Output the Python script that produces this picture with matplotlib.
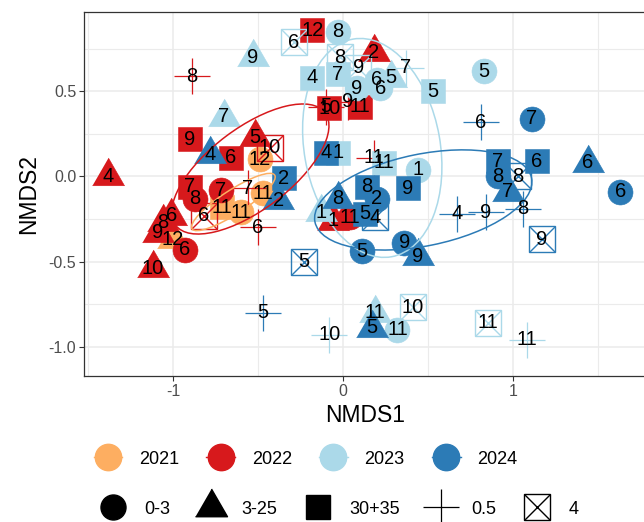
import matplotlib
matplotlib.use("Agg")
import matplotlib.pyplot as plt
from matplotlib.lines import Line2D
from matplotlib.patches import Ellipse
from matplotlib.legend_handler import HandlerTuple

plt.rcParams['font.family'] = ['Liberation Sans', 'DejaVu Sans']

YEARS = ['2021', '2022', '2023', '2024']
YEAR_COLORS = ['#FDAE61', '#D7191C', '#ABD9E9', '#2C7BB6']
DEPTHS = ['0-3', '3-25', '30+35', '0.5', '4']

# one entry per sample
sample_year = (['2021'] * 5 + ['2022'] * 26 + ['2023'] * 25 + ['2024'] * 29)
sample_depth = [
    # 2021
    '0-3', '0-3', '0-3', '30+35', '3-25',
    # 2022
    '0.5', '30+35', '3-25', '30+35', '4', '3-25', '30+35', '0-3', '0-3', '0.5',
    '4', '0.5', '3-25', '3-25', '3-25', '0-3', '3-25', '30+35', '3-25', '30+35',
    '0.5', '0.5', '30+35', '0.5', '3-25', '0-3',
    # 2023
    '3-25', '3-25', '4', '0-3', '4', '30+35', '30+35', '4', '0-3', '3-25',
    '0.5', '0-3', '0-3', '30+35', '0-3', '30+35', '30+35', '0-3', '3-25', '4',
    '4', '0.5', '0.5', '3-25', '0-3',
    # 2024
    '3-25', '30+35', '30+35', '3-25', '0.5', '4', '3-25', '30+35', '0-3', '30+35',
    '30+35', '4', '0-3', '0-3', '3-25', '0.5', '0.5', '0.5', '4', '30+35',
    '30+35', '3-25', '0-3', '0-3', '4', '3-25', '0.5', '0-3', '3-25',
]
sample_label = [
    # 2021
    '12', '11', '11', '11', '12',
    # 2022
    '8', '9', '5', '6', '10', '4', '7', '8', '7', '7',
    '6', '6', '8', '6', '9', '6', '10', '12', '2', '10',
    '5', '9', '11', '11', '1', '11',
    # 2023
    '9', '7', '6', '8', '8', '4', '7', '9', '6', '5',
    '7', '6', '9', '5', '5', '1', '11', '1', '1', '10',
    '11', '11', '10', '11', '11',
    # 2024
    '4', '4', '2', '2', '5', '5', '8', '8', '2', '9',
    '5', '4', '5', '9', '9', '4', '9', '8', '9', '7',
    '6', '6', '6', '8', '8', '7', '6', '7', '5',
]
nmds1 = [
    # 2021
    -0.49, -0.47, -0.60, -0.71, -1.00,
    # 2022
    -0.89, -0.90, -0.52, -0.66, -0.43, -1.38, -0.90, -0.87, -0.72, -0.56,
    -0.82, -0.50, -1.06, -1.01, -1.09, -0.93, -1.12, -0.18, 0.18, -0.08,
    -0.10, 0.03, 0.10, 0.18, -0.06, 0.04,
    # 2023
    -0.53, -0.70, -0.29, -0.03, -0.02, -0.18, -0.03, 0.09, 0.20, 0.28,
    0.37, 0.22, 0.08, 0.53, 0.83, -0.03, 0.24, 0.44, -0.13, 0.41,
    0.85, 1.08, -0.08, 0.19, 0.32,
    # 2024
    -0.78, -0.10, -0.35, -0.38, -0.47, -0.23, -0.03, 0.14, 0.20, 0.38,
    0.13, 0.19, 0.11, 0.36, 0.44, 0.67, 0.84, 1.06, 1.17, 0.91,
    1.14, 1.44, 1.63, 0.91, 1.03, 0.97, 0.81, 1.11, 0.17,
]
nmds2 = [
    # 2021
    0.10, -0.10, -0.21, -0.18, -0.37,
    # 2022
    0.59, 0.22, 0.23, 0.11, 0.17, 0.00, -0.06, -0.13, -0.08, -0.07,
    -0.23, -0.30, -0.27, -0.23, -0.33, -0.43, -0.54, 0.86, 0.73, 0.40,
    0.41, 0.44, 0.41, 0.11, -0.26, -0.24,
    # 2023
    0.70, 0.35, 0.79, 0.85, 0.70, 0.58, 0.60, 0.64, 0.57, 0.58,
    0.64, 0.52, 0.52, 0.50, 0.62, 0.14, 0.08, 0.04, -0.21, -0.77,
    -0.86, -0.96, -0.93, -0.80, -0.90,
    # 2024
    0.13, 0.14, -0.01, -0.14, -0.80, -0.50, -0.13, -0.06, -0.13, -0.07,
    -0.22, -0.24, -0.44, -0.39, -0.47, -0.22, -0.21, -0.19, -0.37, 0.09,
    0.09, 0.08, -0.09, 0.00, 0.00, -0.09, 0.32, 0.34, -0.89,
]

# 95% ellipses per year: centre, semi-axes, rotation (deg)
ell_x = [-0.645, -0.545, 0.172, 0.472]
ell_y = [-0.150, 0.044, 0.168, -0.138]
ell_a = [0.29, 0.55, 0.65, 0.65]
ell_b = [0.07, 0.24, 0.40, 0.27]
ell_angle = [33, 37, 100, 11.5]

TRI = [(-1, -0.5774), (1, -0.5774), (0, 1.1547)]
MARKERS = {
    '0-3': dict(marker='o', ms=18),
    '3-25': dict(marker=TRI, ms=26.6),
    '30+35': dict(marker='s', ms=17),
}


def draw_point(ax, x, y, depth, color):
    if depth in MARKERS:
        ax.plot(x, y, linestyle='none', color=color, mec=color, mew=0.4, zorder=2, **MARKERS[depth])
    elif depth == '0.5':
        ax.plot(x, y, linestyle='none', marker='+', ms=26.6, mew=0.9, color=color, zorder=2)
    else:
        ax.plot(x, y, linestyle='none', marker='s', ms=18.5, mfc='none', mec=color, mew=1.0, zorder=2)
        ax.plot(x, y, linestyle='none', marker='x', ms=18.5, mec=color, mew=1.0, zorder=2)


fig = plt.figure(figsize=(6.44, 5.22), dpi=100)
ax = fig.add_axes([84 / 644, 1 - 376 / 522, (647 - 84) / 644, (376 - 12) / 522])
ax.set_xlim(-1.5235, 1.788)
ax.set_ylim(-1.1735, 0.9676)

ax.set_xticks([-1, 0, 1])
ax.set_xticklabels(['-1', '0', '1'])
ax.set_yticks([-1.0, -0.5, 0.0, 0.5])
ax.set_yticklabels(['-1.0', '-0.5', '0.0', '0.5'])
ax.set_xticks([-1.5, -0.5, 0.5, 1.5], minor=True)
ax.set_yticks([-0.75, -0.25, 0.25, 0.75], minor=True)
ax.grid(True, which='major', color='#EBEBEB', lw=1.1, zorder=0)
ax.grid(True, which='minor', color='#EBEBEB', lw=0.8, zorder=0)
ax.set_axisbelow(True)
ax.tick_params(which='major', length=3.5, width=0.8, color='#333333', labelcolor='#4D4D4D',
               labelsize=11.5, pad=2)
ax.tick_params(which='minor', length=0)
for s in ax.spines.values():
    s.set_color('#333333')
    s.set_linewidth(0.9)

for yr, d, x, y in zip(sample_year, sample_depth, nmds1, nmds2):
    draw_point(ax, x, y, d, YEAR_COLORS[YEARS.index(yr)])

for i, c in enumerate(YEAR_COLORS):
    ax.add_patch(Ellipse((ell_x[i], ell_y[i]), 2 * ell_a[i], 2 * ell_b[i], angle=ell_angle[i],
                         fill=False, edgecolor=c, lw=1.1, zorder=3))

for lab, x, y in zip(sample_label, nmds1, nmds2):
    ax.text(x, y, lab, ha='center', va='center', fontsize=14.5, color='black', zorder=4)

ax.set_xlabel('NMDS1', fontsize=16.5, labelpad=4)
ax.set_ylabel('NMDS2', fontsize=16.5, labelpad=6)

# legends
year_handles = [Line2D([0], [0], color=c, lw=1.0, marker='o', ms=19, mec=c) for c in YEAR_COLORS]
fig.legend(year_handles, YEARS, loc='center left', bbox_to_anchor=(93.6 / 644, 1 - 459 / 522),
           ncol=4, frameon=False, fontsize=13, handlelength=1.6, handletextpad=0.92,
           columnspacing=1.5, borderpad=0, borderaxespad=0)

k = 'black'
depth_handles = [
    Line2D([0], [0], linestyle='none', color=k, marker='o', ms=18),
    Line2D([0], [0], linestyle='none', color=k, marker=TRI, ms=26.6),
    Line2D([0], [0], linestyle='none', color=k, marker='s', ms=17),
    Line2D([0], [0], linestyle='none', color=k, marker='+', ms=26.6, mew=0.9),
    (Line2D([0], [0], linestyle='none', marker='s', ms=18.5, mfc='none', mec=k, mew=1.0),
     Line2D([0], [0], linestyle='none', marker='x', ms=18.5, mec=k, mew=1.0)),
]
fig.legend(depth_handles, DEPTHS, loc='center left', bbox_to_anchor=(98.6 / 644, 1 - 509 / 522),
           ncol=5, frameon=False, fontsize=13, handlelength=1.6, handletextpad=0.92,
           columnspacing=1.45, borderpad=0, borderaxespad=0,
           handler_map={tuple: HandlerTuple(ndivide=1)})

fig.savefig('out.png', dpi=100)
